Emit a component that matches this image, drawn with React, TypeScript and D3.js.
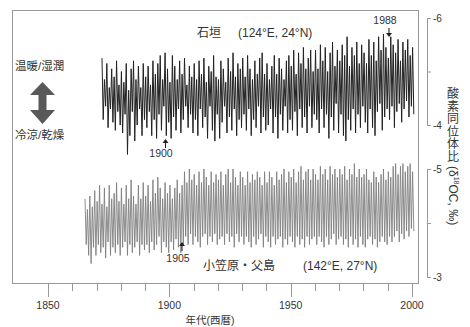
import React, { useEffect, useRef } from 'react';
import * as d3 from 'd3';

// δ18O (‰) – yearly warm-season minimum (peak) and cold-season maximum (trough)
const ishigakiStart = 1872;
const ishigakiPeaks = [
  -5.25, -4.85, -5.15, -4.7, -5.05, -4.9, -5.2, -4.75,
  -5.0, -4.8, -5.15, -4.65, -5.05, -5.2, -4.85, -5.1, -4.7, -5.15,
  -4.9, -5.1, -4.75, -5.2, -4.95, -5.15, -5.3, -4.85, -5.35, -5.05,
  -4.8, -5.3, -5.1, -4.85, -5.2, -4.95, -5.25, -4.75, -5.1, -4.9,
  -5.15, -4.85, -5.2, -4.95, -5.25, -4.8, -5.1, -5.0, -5.3, -4.9,
  -4.85, -5.2, -5.05, -4.8, -5.25, -5.0, -5.35, -4.9, -5.15, -5.05,
  -5.25, -4.9, -5.3, -5.05, -4.85, -5.2, -4.95, -5.25, -5.35, -4.95,
  -5.15, -4.85, -5.1, -5.3, -4.95, -5.25, -5.05, -4.85, -5.2, -5.3,
  -5.1, -5.4, -4.95, -5.35, -5.15, -5.45, -5.05, -5.25, -5.4, -5.0,
  -5.4, -5.05, -5.5, -5.2, -5.45, -5.0, -5.35, -5.55, -5.1, -5.4,
  -5.2, -5.5, -5.3, -5.65, -5.1, -5.45, -5.3, -5.55, -5.15, -5.5,
  -5.35, -5.15, -5.6, -5.3, -5.55, -5.2, -5.65, -5.4, -5.7, -5.45,
  -5.25, -5.65, -5.5, -5.35, -5.6, -5.2, -5.55, -5.4, -5.6, -5.3,
  -5.45,
];
const ishigakiTroughs = [
  -4.1, -4.35, -3.95, -4.3, -4.05, -3.9, -4.25, -4.0,
  -3.85, -4.2, -3.45, -3.8, -4.25, -3.7, -4.0, -4.3, -3.8, -4.1,
  -3.95, -4.25, -3.8, -4.1, -3.75, -4.2, -3.9, -4.35, -3.8, -4.05,
  -3.75, -4.15, -3.9, -4.3, -3.85, -4.1, -4.35, -3.95, -4.2, -3.85,
  -4.1, -3.8, -4.3, -3.95, -4.15, -3.75, -4.35, -3.9, -3.7, -4.2,
  -3.75, -4.05, -4.35, -3.85, -4.15, -3.9, -4.3, -3.8, -4.1, -3.95,
  -4.2, -3.9, -4.3, -3.8, -4.1, -3.95, -4.35, -3.85, -4.15, -3.9,
  -4.0, -4.3, -3.85, -4.15, -3.75, -4.2, -3.9, -4.35, -3.85, -4.1,
  -3.9, -4.25, -3.8, -4.3, -3.95, -4.15, -3.85, -4.35, -3.95, -4.2,
  -4.1, -3.85, -4.3, -3.95, -4.2, -3.75, -4.15, -3.9, -4.4, -3.85,
  -4.2, -3.8, -3.7, -4.1, -3.9, -4.3, -3.85, -4.2, -3.95, -4.35,
  -4.05, -3.85, -4.3, -3.95, -3.8, -4.25, -4.4, -3.9, -4.15, -4.3,
  -4.1, -4.35, -3.95, -4.25, -4.4, -4.05, -4.3, -4.45, -4.15, -4.35,
  -4.2,
];

const ogasawaraStart = 1865;
const ogasawaraPeaks = [
  -4.45, -4.25, -4.5, -4.3, -4.6,
  -4.4, -4.7, -4.35, -4.65, -4.3, -4.7, -4.45, -4.55, -4.75, -4.4,
  -4.65, -4.35, -4.7, -4.45, -4.8, -4.5, -4.35, -4.7, -4.45, -4.75,
  -4.5, -4.7, -4.4, -4.8, -4.55, -4.85, -4.65, -4.45, -4.75, -4.55,
  -4.7, -4.45, -4.65, -4.8, -4.55, -4.7, -4.95, -4.75, -5.0, -4.8,
  -4.9, -4.7, -4.95, -4.75, -5.0, -4.85, -4.7, -4.95, -4.75, -4.9,
  -4.8, -4.95, -4.7, -4.9, -5.0, -4.75, -5.0, -4.85, -4.7, -4.95,
  -4.85, -4.7, -4.95, -4.75, -4.9, -4.8, -4.95, -4.85, -4.7, -4.95,
  -4.75, -4.95, -4.85, -4.7, -4.95, -4.8, -4.9, -5.0, -4.75, -4.95,
  -4.85, -5.0, -4.75, -4.95, -5.05, -4.8, -4.95, -5.0, -4.8, -5.0,
  -4.9, -4.8, -5.05, -4.9, -5.0, -4.8, -5.05, -4.9, -5.0, -4.85,
  -5.0, -4.9, -5.05, -4.8, -5.0, -4.9, -5.1, -4.85, -5.0, -4.85,
  -4.9, -5.0, -4.8, -4.75, -4.95, -4.85, -4.75, -4.9, -5.0, -4.8,
  -4.95, -4.85, -5.05, -5.1, -4.9, -5.05, -5.1, -4.95, -5.05, -5.1,
  -4.95,
];
const ogasawaraTroughs = [
  -3.6, -3.4, -3.25, -3.55, -3.4,
  -3.6, -3.45, -3.55, -3.35, -3.65, -3.4, -3.55, -3.45, -3.6, -3.4,
  -3.55, -3.65, -3.4, -3.6, -3.45, -3.55, -3.65, -3.4, -3.6, -3.5,
  -3.6, -3.45, -3.65, -3.5, -3.6, -3.75, -3.45, -3.65, -3.55, -3.45,
  -3.65, -3.5, -3.7, -3.55, -3.45, -3.6, -3.75, -3.6, -3.8, -3.6,
  -3.75, -3.65, -3.55, -3.75, -3.8, -3.6, -3.75, -3.65, -3.8, -3.6,
  -3.7, -3.75, -3.6, -3.8, -3.65, -3.75, -3.55, -3.8, -3.65, -3.75,
  -3.6, -3.75, -3.65, -3.55, -3.75, -3.6, -3.7, -3.8, -3.55, -3.75,
  -3.65, -3.55, -3.75, -3.6, -3.7, -3.75, -3.55, -3.7, -3.6, -3.75,
  -3.65, -3.55, -3.75, -3.6, -3.7, -3.55, -3.75, -3.6, -3.7, -3.75,
  -3.6, -3.75, -3.65, -3.55, -3.75, -3.6, -3.7, -3.8, -3.6, -3.7,
  -3.75, -3.6, -3.7, -3.55, -3.75, -3.6, -3.7, -3.55, -3.75, -3.6,
  -3.55, -3.7, -3.75, -3.6, -3.7, -3.55, -3.65, -3.75, -3.65, -3.6,
  -3.75, -3.65, -3.75, -3.85, -3.65, -3.8, -3.7, -3.85, -3.75, -3.9,
  -3.85,
];

const decadeTicks = d3.range(1850, 2001, 10);
const labelledYears = [1850, 1900, 1950, 2000];
const ishigakiTicks = [-6, -5, -4];
const ogasawaraTicks = [-5, -4, -3];
const yLabelChars = ['酸', '素', '同', '位', '体', '比'];

const FONT = '"Liberation Sans", "Noto Sans CJK JP", Arial, sans-serif';
const TEXT = '#333';
const AXIS = '#999';

export default function App() {
  const ref = useRef<SVGSVGElement>(null);

  useEffect(() => {
    const svg = d3.select(ref.current);
    svg.selectAll('*').remove();

    const x = d3.scaleLinear([1850, 2000], [48, 412]);
    const yTop = d3.scaleLinear([-6, -4], [18, 125]);
    const yBot = d3.scaleLinear([-5, -3], [169, 277]);

    // frame
    svg.append('rect')
      .attr('x', 12.5).attr('y', 10.5)
      .attr('width', 406).attr('height', 273)
      .attr('fill', 'none').attr('stroke', AXIS).attr('stroke-width', 1);

    // bottom axis ticks
    const g = svg.append('g').attr('font-family', FONT);
    g.selectAll('line.xt')
      .data(decadeTicks)
      .join('line')
      .attr('class', 'xt')
      .attr('x1', (d) => Math.round(x(d)) + 0.5)
      .attr('x2', (d) => Math.round(x(d)) + 0.5)
      .attr('y1', 283.5)
      .attr('y2', (d) => (d % 50 === 0 ? 297 : 291))
      .attr('stroke', AXIS);
    g.selectAll('text.xl')
      .data(labelledYears)
      .join('text')
      .attr('class', 'xl')
      .attr('x', (d) => x(d))
      .attr('y', 309)
      .attr('text-anchor', 'middle')
      .attr('font-size', 10.5)
      .attr('fill', TEXT)
      .text((d) => d);

    // right axes (bracket style)
    const rightAxis = (scale, ticks) => {
      const a = svg.append('g')
        .attr('transform', 'translate(427,0)')
        .call(
          d3.axisRight(scale)
            .tickValues(ticks)
            .tickSize(4)
            .tickSizeOuter(4)
            .tickPadding(2)
            .tickFormat((d) => (d === ticks[1] ? '' : String(d)))
        );
      a.select('.domain').attr('stroke', AXIS);
      a.selectAll('.tick line').attr('stroke', AXIS);
      a.selectAll('.tick text')
        .attr('fill', TEXT)
        .attr('font-size', 10)
        .attr('font-family', FONT);
    };
    rightAxis(yTop, ishigakiTicks);
    rightAxis(yBot, ogasawaraTicks);

    // series
    const zig = (start, peaks, troughs) =>
      peaks.flatMap((p, i) => [
        [start + i + 0.25, p],
        [start + i + 0.75, troughs[i]],
      ]);

    svg.append('path')
      .datum(zig(ogasawaraStart, ogasawaraPeaks, ogasawaraTroughs))
      .attr('fill', 'none')
      .attr('stroke', '#808080')
      .attr('stroke-width', 0.9)
      .attr('d', d3.line().x((d) => x(d[0])).y((d) => yBot(d[1])));

    svg.append('path')
      .datum(zig(ishigakiStart, ishigakiPeaks, ishigakiTroughs))
      .attr('fill', 'none')
      .attr('stroke', '#222')
      .attr('stroke-width', 1)
      .attr('d', d3.line().x((d) => x(d[0])).y((d) => yTop(d[1])));

    // labels
    const label = (tx, ty, s, size = 11.5, anchor = 'start') =>
      svg.append('text')
        .attr('x', tx).attr('y', ty)
        .attr('font-family', FONT)
        .attr('font-size', size)
        .attr('text-anchor', anchor)
        .attr('fill', TEXT)
        .text(s);

    label(197, 37, '石垣', 12);
    label(238, 37, '(124°E, 24°N)', 12);
    label(203, 270, '小笠原・父島', 12);
    label(303, 270, '(142°E, 27°N)', 12);
    label(15, 70, '温暖/湿潤', 11.5);
    label(15, 139, '冷涼/乾燥', 11.5);
    label(210, 324, '年代(西暦)', 10.5, 'middle');

    // year markers
    label(385, 24, '1988', 10.5, 'middle');
    label(161, 157, '1900', 10.5, 'middle');
    label(178, 262, '1905', 10.5, 'middle');

    const arrow = (ax, y1, y2) => {
      const dir = Math.sign(y2 - y1);
      svg.append('line')
        .attr('x1', ax).attr('x2', ax).attr('y1', y1).attr('y2', y2 - dir * 2)
        .attr('stroke', '#222').attr('stroke-width', 1.1);
      svg.append('path')
        .attr('d', `M${ax - 3},${y2 - dir * 4}L${ax},${y2}L${ax + 3},${y2 - dir * 4}Z`)
        .attr('fill', '#222');
    };
    arrow(389, 28, 37);
    arrow(165.5, 148, 139);
    arrow(182, 251, 242);

    // double arrow on the left
    svg.append('path')
      .attr('d', 'M42.5,82L55,95H46.5V110H55L42.5,124L30,110H38.5V95H30Z')
      .attr('fill', '#595959');

    // right y label: vertical Japanese + rotated unit
    svg.selectAll('text.yc')
      .data(yLabelChars)
      .join('text')
      .attr('class', 'yc')
      .attr('x', 453)
      .attr('y', (d, i) => 94 + i * 12.5)
      .attr('text-anchor', 'middle')
      .attr('dominant-baseline', 'central')
      .attr('font-family', FONT)
      .attr('font-size', 12)
      .attr('fill', TEXT)
      .text((d) => d);
    const unit = svg.append('text')
      .attr('transform', 'translate(449,166) rotate(90)')
      .attr('font-family', FONT)
      .attr('font-size', 12)
      .attr('fill', TEXT);
    unit.append('tspan').text('(δ');
    unit.append('tspan').attr('font-size', 7).attr('dy', -5).text('18');
    unit.append('tspan').attr('dy', 5).text('OC, ‰)');
  }, []);

  return (
    <svg
      ref={ref}
      width={470}
      height={327}
      style={{ position: 'absolute', left: 0, top: 0, background: '#fff' }}
    />
  );
}
